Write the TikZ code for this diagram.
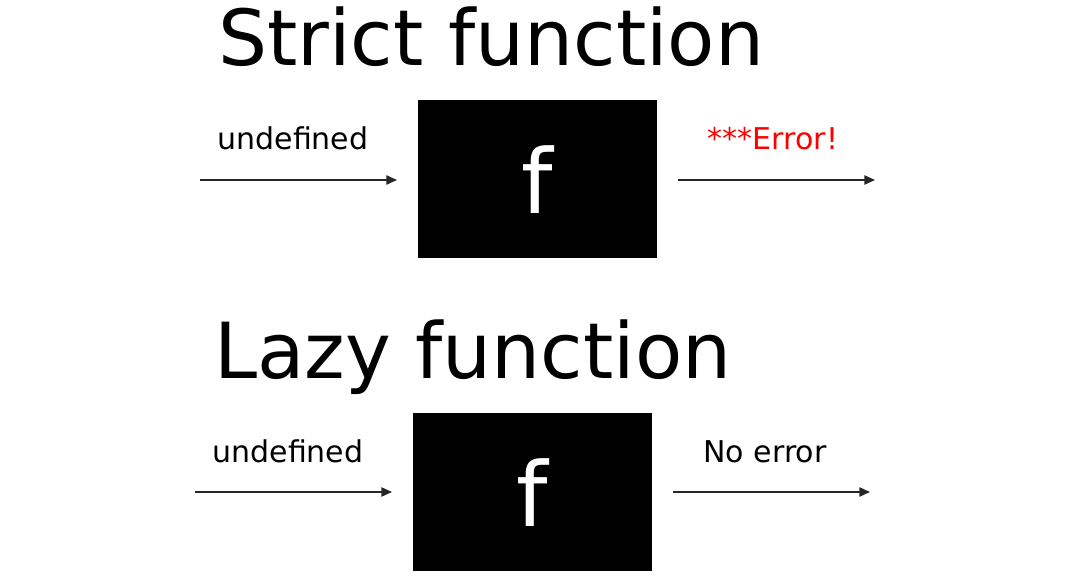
\documentclass[tikz,border=0pt]{standalone}
\usepackage{fontspec}
\setmainfont{DejaVu Sans}
\usetikzlibrary{arrows.meta}
\begin{document}
\begin{tikzpicture}[x=0.75pt,y=-0.75pt,
  fbox/.style={fill=black,draw=none,minimum width=179.25pt,minimum height=118.5pt,inner sep=0pt,text=white,font=\fontsize{67}{67}\selectfont},
  title/.style={anchor=base west,inner sep=0pt,font=\fontsize{58}{58}\selectfont},
  lbl/.style={anchor=base,inner sep=0pt,font=\fontsize{22.5}{22.5}\selectfont},
  arr/.style={-{Triangle[length=8pt,width=7pt]},line width=1.1pt,draw=black!85}]
\useasboundingbox (0,0) rectangle (1070,588);
\node[title] (t1) at (218,66) {Strict function};
\node[title] (t2) at (214,378) {Lazy function};
\node[fbox] (f1) at (537.5,179) {\raisebox{-25.5pt}[0pt][0pt]{f}};
\node[fbox] (f2) at (532,492) {\raisebox{-25.5pt}[0pt][0pt]{f}};
\coordinate (a1s) at (200,180);
\coordinate (a1e) at (397,180);
\coordinate (a2s) at (678,180);
\coordinate (a2e) at (875,180);
\coordinate (b1s) at (195,492);
\coordinate (b1e) at (392,492);
\coordinate (b2s) at (673,492);
\coordinate (b2e) at (870,492);
\draw[arr] (a1s) -- (a1e);
\draw[arr] (a2s) -- (a2e);
\draw[arr] (b1s) -- (b1e);
\draw[arr] (b2s) -- (b2e);
\node[lbl] (u1) at (293,150) {undefined};
\node[lbl,text=red] (e1) at (773,150) {***Error!};
\node[lbl] (u2) at (288,462) {undefined};
\node[lbl] (n2) at (765,462) {No error};
\end{tikzpicture}
\end{document}
